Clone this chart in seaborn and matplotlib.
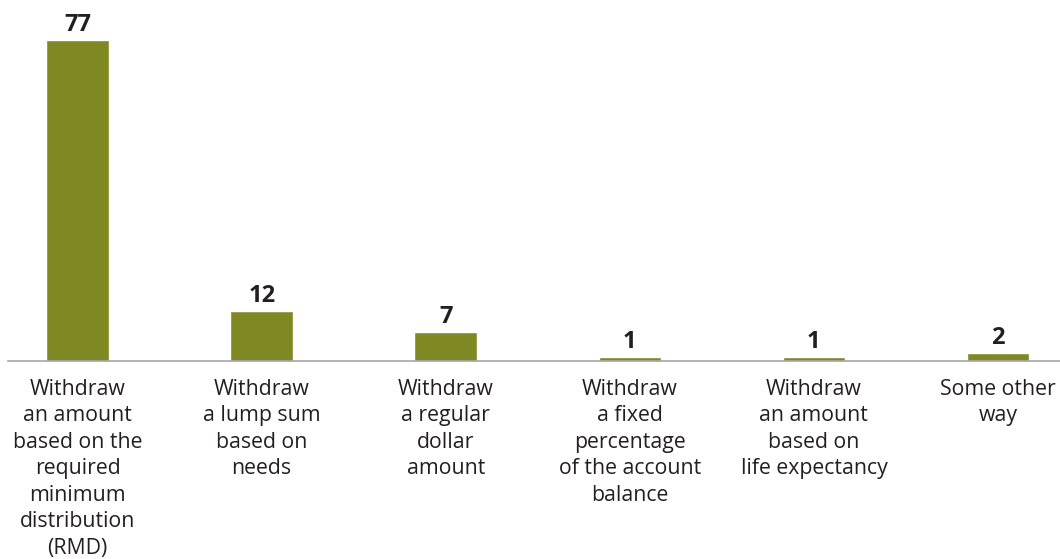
import matplotlib
matplotlib.use("Agg")
import matplotlib.pyplot as plt
import seaborn as sns
import pandas as pd

# ---------------------------------------------------------------
# Data
# ---------------------------------------------------------------
categories = [
    "Withdraw\nan amount\nbased on the\nrequired\nminimum\ndistribution\n(RMD)",
    "Withdraw\na lump sum\nbased on\nneeds",
    "Withdraw\na regular\ndollar\namount",
    "Withdraw\na fixed\npercentage\nof the account\nbalance",
    "Withdraw\nan amount\nbased on\nlife expectancy",
    "Some other\nway",
]
values = [77, 12, 7, 1, 1, 2]

BAR_COLOR = "#7f8823"
TEXT_COLOR = "#231f20"

sns.set_style("white")
plt.rcParams["font.family"] = ["Open Sans", "DejaVu Sans"]

df = pd.DataFrame({"category": categories, "value": values})

fig = plt.figure(figsize=(10.6, 5.59), dpi=100)
ax = fig.add_axes([8 / 1060, 198 / 559, 1 - 8 / 1060, 361 / 559])

sns.barplot(data=df, x="category", y="value", color=BAR_COLOR,
            width=0.34, saturation=1, ax=ax)

for i, v in enumerate(values):
    ax.annotate(str(v), (i, v), xytext=(0, 2), textcoords="offset points",
                ha="center", va="bottom", fontsize=17, fontweight="bold",
                color=TEXT_COLOR)

ax.set_xlim(-0.378, 5.337)
ax.set_ylim(0, 86.6)
ax.set_xlabel("")
ax.set_ylabel("")
ax.set_yticks([])
ax.tick_params(axis="x", length=0, pad=13, labelsize=15.3, labelcolor=TEXT_COLOR)
for lbl in ax.get_xticklabels():
    lbl.set_linespacing(1.34)
    lbl.set_ha("center")

for side in ["top", "right", "left"]:
    ax.spines[side].set_visible(False)
ax.spines["bottom"].set_color("#a6a6a6")
ax.spines["bottom"].set_linewidth(1.2)

fig.savefig("out.png", dpi=100)
